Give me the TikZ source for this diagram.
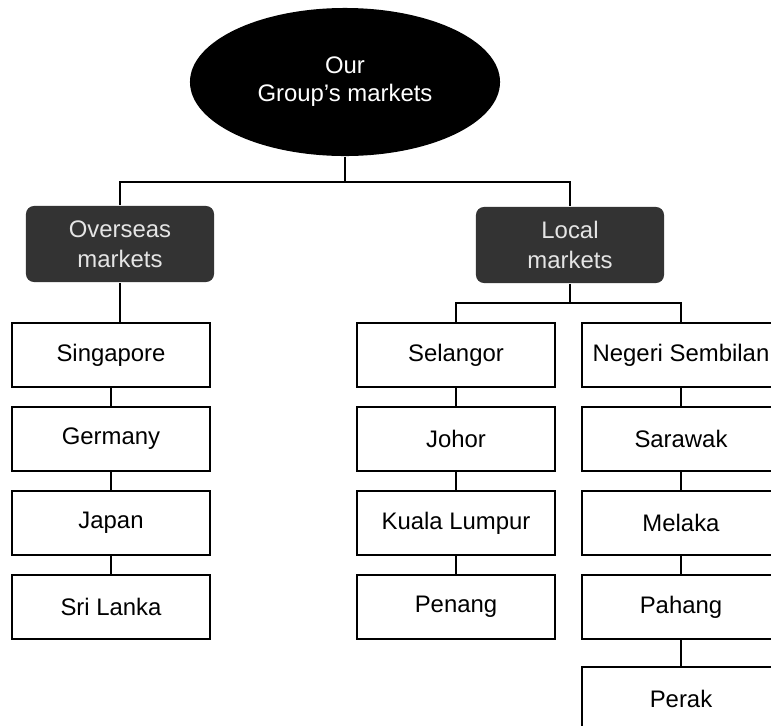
\documentclass[tikz,border=0pt]{standalone}
\usepackage{fontspec}
\setmainfont{Liberation Sans}
\usepackage{tikz}
\usetikzlibrary{shapes.geometric}

\begin{document}
\begin{tikzpicture}[x=0.025cm,y=-0.025cm,line width=1.2pt]
        %
        % `group' is the black ellipse at the top.
        % `area' is used for the two dark rounded boxes.
        % `market' is used for every country / state box.
        \tikzstyle{group} = [ellipse,fill=black,minimum width=7.75cm,minimum height=3.7cm,inner sep=0pt,text=white,align=center,font=\fontsize{17}{20}\selectfont]
        \tikzstyle{area} = [fill=black!80,rounded corners=2mm,minimum width=4.7cm,minimum height=1.9cm,inner sep=0pt,text=black!10,align=center,font=\fontsize{17}{21}\selectfont]
        \tikzstyle{market} = [draw,fill=white,minimum width=4.95cm,minimum height=1.6cm,inner sep=0pt,font=\fontsize{17}{20}\selectfont]
        %
        \useasboundingbox (0,0) rectangle (771,725);
        \clip (0,0) rectangle (771,725);
        %
        % Top
        \node[group] (top) at (345,82) {Our\\Group's markets};
        %
        % Second level
        \node[area] (overseas) at (120,244) {Overseas\\markets};
        \node[area] (local) at (570,245) {Local\\markets};
        \coordinate (split1) at (345,182);
        \draw (top) -- (split1);
        \draw (overseas.north) |- (split1) -| (local.north);
        %
        % Overseas column
        \node[market] (sing) at (111,355) {Singapore};
        \node[market] (germ) at (111,439) {Germany};
        \node[market] (japan) at (111,523) {Japan};
        \node[market] (srilanka) at (111,607) {Sri Lanka};
        \draw (overseas.south) -- (overseas.south |- sing.north);
        \draw (sing) -- (germ);
        \draw (germ) -- (japan);
        \draw (japan) -- (srilanka);
        %
        % Local column 1
        \node[market] (selangor) at (456,355) {Selangor};
        \node[market] (johor) at (456,439) {Johor};
        \node[market] (kl) at (456,523) {Kuala Lumpur};
        \node[market] (penang) at (456,607) {Penang};
        \draw (selangor) -- (johor);
        \draw (johor) -- (kl);
        \draw (kl) -- (penang);
        %
        % Local column 2
        \node[market] (negeri) at (681,355) {Negeri Sembilan};
        \node[market] (sarawak) at (681,439) {Sarawak};
        \node[market] (melaka) at (681,523) {Melaka};
        \node[market] (pahang) at (681,607) {Pahang};
        \node[market] (perak) at (681,699) {Perak};
        \draw (negeri) -- (sarawak);
        \draw (sarawak) -- (melaka);
        \draw (melaka) -- (pahang);
        \draw (pahang) -- (perak);
        %
        % Local split
        \coordinate (split2) at (570,303);
        \draw (local) -- (split2);
        \draw (selangor.north) |- (split2) -| (negeri.north);
        %
\end{tikzpicture}
\end{document}
